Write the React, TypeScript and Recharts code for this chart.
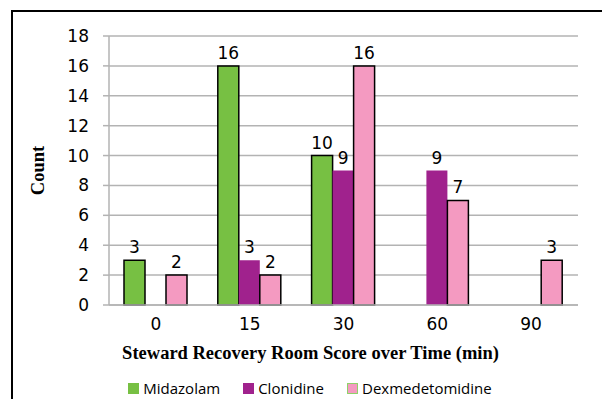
import React from 'react';
import { BarChart, Bar, XAxis, YAxis, CartesianGrid, Legend, LabelList, Label } from 'recharts';

const times = ['0', '15', '30', '60', '90'];
const midazolam = [3, 16, 10, 0, 0];
const clonidine = [0, 3, 9, 9, 0];
const dexmedetomidine = [2, 2, 16, 7, 3];
const yTicks = [0, 2, 4, 6, 8, 10, 12, 14, 16, 18];
const edgeTicks = [0, 1, 2, 3, 4, 5];

const data = times.map((t, i) => ({
  time: t,
  Midazolam: midazolam[i],
  Clonidine: clonidine[i],
  Dexmedetomidine: dexmedetomidine[i],
}));

const GREEN = '#77c043';
const PURPLE = '#a0228d';
const PINK = '#f49ac1';
const GRID = '#b3b3b3';
const tickFont = { fontFamily: 'DejaVu Sans', fontSize: 17, fill: '#000' };
const titleFont = { fontFamily: 'Liberation Serif', fontWeight: 700, fontSize: 18.5, fill: '#000' };

const hideZero = (v: any) => (v ? v : '');

const legendItems = [
  { name: 'Midazolam', fill: GREEN, border: GREEN },
  { name: 'Clonidine', fill: PURPLE, border: PURPLE },
  { name: 'Dexmedetomidine', fill: PINK, border: '#8fd16a' },
];

function LegendBox() {
  return (
    <div style={{ display: 'flex', justifyContent: 'center', alignItems: 'center', height: 22, fontFamily: 'Open Sans', fontSize: 15, color: '#000' }}>
      {legendItems.map((it, i) => (
        <div key={it.name} style={{ display: 'flex', alignItems: 'center', marginLeft: i ? 23 : 0 }}>
          <span style={{ display: 'inline-block', width: 9, height: 9, background: it.fill, border: `1px solid ${it.border}`, marginRight: 4 }} />
          <span>{it.name}</span>
        </div>
      ))}
    </div>
  );
}

export default function App() {
  return (
    <div style={{ position: 'absolute', left: 0, top: 0, width: 602, height: 399, background: '#fff', overflow: 'hidden' }}>
      <div style={{ position: 'absolute', left: 11, top: 10, width: 620, height: 420, border: '2px solid #000', boxSizing: 'border-box' }} />
      <BarChart
        width={602}
        height={399}
        data={data}
        margin={{ top: 36, right: 24, left: 0, bottom: 0 }}
        barCategoryGap={15}
        barGap={0}
      >
        <CartesianGrid horizontal vertical={false} stroke={GRID} strokeWidth={1.5} yAxisId="y" xAxisId="cat" />
        <XAxis
          xAxisId="edges"
          type="number"
          domain={[0, 5]}
          ticks={edgeTicks}
          tick={false}
          axisLine={false}
          tickLine={{ stroke: GRID, strokeWidth: 1.5 }}
          tickSize={6}
          height={0}
          allowDataOverflow
        />
        <XAxis
          xAxisId="cat"
          dataKey="time"
          tickLine={false}
          tickSize={0}
          tickMargin={13}
          axisLine={{ stroke: GRID, strokeWidth: 1.5 }}
          tick={tickFont}
          height={72}
        >
          <Label
            content={({ viewBox }: any) => (
              <text x={viewBox.x + viewBox.width / 2 - 33} y={viewBox.y + 48} textAnchor="middle" dominantBaseline="central" style={titleFont}>
                Steward Recovery Room Score over Time (min)
              </text>
            )}
          />
        </XAxis>
        <YAxis
          yAxisId="y"
          domain={[0, 18]}
          ticks={yTicks}
          width={109}
          tick={tickFont}
          tickSize={6}
          tickMargin={14}
          tickLine={{ stroke: GRID, strokeWidth: 1.5 }}
          axisLine={{ stroke: GRID, strokeWidth: 1.5 }}
          interval={0}
        >
          <Label
            content={({ viewBox }: any) => (
              <text
                x={38}
                y={viewBox.y + viewBox.height / 2}
                textAnchor="middle"
                dominantBaseline="central"
                transform={`rotate(-90 38 ${viewBox.y + viewBox.height / 2})`}
                style={titleFont}
              >
                Count
              </text>
            )}
          />
        </YAxis>
        <Legend verticalAlign="bottom" content={() => <LegendBox />} wrapperStyle={{ left: 0, width: 620, bottom: 0, height: 22 }} />
        <Bar dataKey="Midazolam" xAxisId="cat" yAxisId="y" fill={GREEN} stroke="#000" strokeWidth={1.5} isAnimationActive={false}>
          <LabelList dataKey="Midazolam" position="top" offset={7} formatter={hideZero} style={tickFont} />
        </Bar>
        <Bar dataKey="Clonidine" xAxisId="cat" yAxisId="y" fill={PURPLE} isAnimationActive={false}>
          <LabelList dataKey="Clonidine" position="top" offset={7} formatter={hideZero} style={tickFont} />
        </Bar>
        <Bar dataKey="Dexmedetomidine" xAxisId="cat" yAxisId="y" fill={PINK} stroke="#000" strokeWidth={1.5} isAnimationActive={false}>
          <LabelList dataKey="Dexmedetomidine" position="top" offset={7} formatter={hideZero} style={tickFont} />
        </Bar>
      </BarChart>
    </div>
  );
}
